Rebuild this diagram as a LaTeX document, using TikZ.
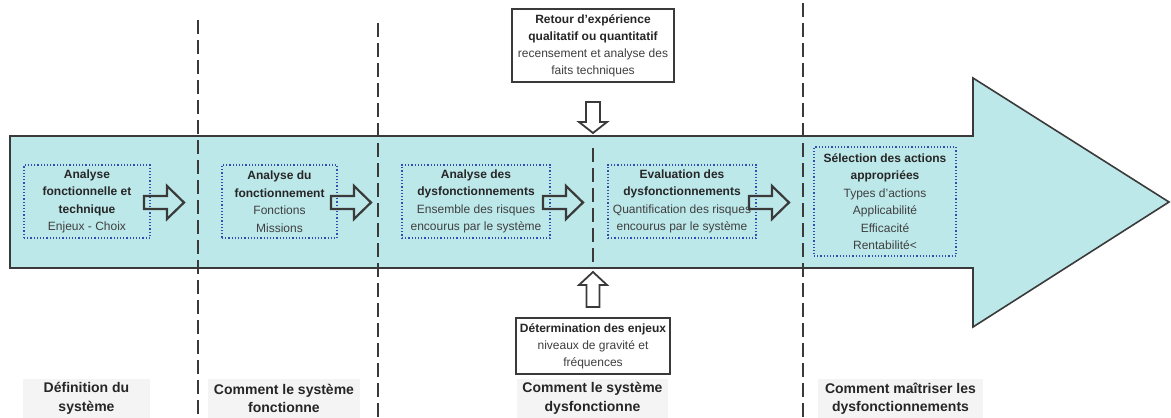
\documentclass[tikz,border=0pt]{standalone}
\usepackage{fontspec}
\setmainfont{Liberation Sans}
\definecolor{bandfill}{HTML}{BDE8EA}
\definecolor{edgegray}{HTML}{3A3A3A}
\definecolor{dotblue}{HTML}{2F4FB0}
\definecolor{labelbg}{HTML}{F4F4F4}
\definecolor{boldtxt}{HTML}{262626}
\definecolor{normtxt}{HTML}{3F3F3F}
\newcommand\hd[1]{\textcolor{boldtxt}{\bfseries #1}}
\tikzset{
  bigarrow/.style={fill=bandfill, draw=edgegray, line width=1.6pt, line join=miter},
  sepline/.style={draw=edgegray, line width=1.6pt, dash pattern=on 14pt off 6pt},
  stagebox/.style={draw=dotblue, line width=1.2pt, dotted, align=center, inner sep=0pt,
    font=\fontsize{12}{17.5}\selectfont, text=normtxt},
  blockarrow/.style={draw=edgegray, line width=2.2pt, line join=miter},
  vblockarrow/.style={draw=edgegray, line width=1.8pt, line join=miter, fill=white},
  infobox/.style={draw=edgegray, line width=1.6pt, fill=white, align=center, inner sep=0pt,
    font=\fontsize{12}{17}\selectfont, text=normtxt},
  phaselabel/.style={fill=labelbg, align=center, inner sep=0pt,
    font=\bfseries\fontsize{14}{18.5}\selectfont, text=boldtxt},
}
\newcommand\rightblock[1]{\draw[blockarrow, shift={(#1)}] (0,-6.5) -- (23,-6.5) -- (23,-16.5) -- (40,0) -- (23,16.5) -- (23,6.5) -- (0,6.5) -- cycle;}
\begin{document}
\begin{tikzpicture}[x=1pt,y=-1pt]
\useasboundingbox (0,0) rectangle (1171,418);

% main band arrow
\draw[bigarrow] (10,136) -- (973,136) -- (973,78) -- (1169,202) -- (973,327) -- (973,268) -- (10,268) -- cycle;

% separators
\draw[sepline] (198,20) -- (198,418);
\draw[sepline] (378,23) -- (378,418);
\draw[sepline] (593,148) -- (593,262);
\draw[sepline] (803,3) -- (803,418);

% stage boxes
\node[stagebox, minimum width=126pt, minimum height=73pt] (s1) at (87,201.5)
  {\hd{Analyse}\\\hd{fonctionnelle et}\\\hd{technique}\\Enjeux - Choix};
\node[stagebox, minimum width=115pt, minimum height=73pt] (s2) at (279.5,201.5)
  {\hd{Analyse du}\\\hd{fonctionnement}\\Fonctions\\Missions};
\node[stagebox, minimum width=148pt, minimum height=73pt] (s3) at (476,201.5)
  {\hd{Analyse des}\\\hd{dysfonctionnements}\\Ensemble des risques\\encourus par le système};
\node[stagebox, minimum width=148pt, minimum height=73pt] (s4) at (682,201.5)
  {\hd{Evaluation des}\\\hd{dysfonctionnements}\\Quantification des risques\\encourus par le système};
\node[stagebox, minimum width=142pt, minimum height=109pt] (s5) at (885,201.5)
  {\hd{Sélection des actions}\\\hd{appropriées}\\Types d’actions\\Applicabilité\\Efficacité\\Rentabilité<};

% horizontal block arrows
\coordinate (a1) at (144,202.5);
\coordinate (a2) at (331,202.5);
\coordinate (a3) at (543,202.5);
\coordinate (a4) at (749,202.5);
\rightblock{a1}
\rightblock{a2}
\rightblock{a3}
\rightblock{a4}

% info boxes
\node[infobox, minimum width=162pt, minimum height=73pt] (retour) at (593,45.5)
  {\hd{Retour d’expérience}\\\hd{qualitatif ou quantitatif}\\recensement et analyse des\\faits techniques};
\node[infobox, minimum width=154pt, minimum height=56pt] (enjeux) at (593,346)
  {\hd{Détermination des enjeux}\\niveaux de gravité et\\fréquences};

% vertical block arrows
\coordinate (dn) at (593,102);
\coordinate (up) at (593,307);
\draw[vblockarrow, shift={(dn)}] (-7,0) -- (7,0) -- (7,20) -- (14,20) -- (0,31) -- (-14,20) -- (-7,20) -- cycle;
\draw[vblockarrow, shift={(up)}] (-6.5,0) -- (6.5,0) -- (6.5,-22) -- (14,-22) -- (0,-35) -- (-14,-22) -- (-6.5,-22) -- cycle;

% phase labels
\node[phaselabel, minimum width=127pt, minimum height=39pt] (p1) at (86.5,398.5) {Définition du\\système};
\node[phaselabel, minimum width=152pt, minimum height=39pt] (p2) at (284,398.5) {Comment le système\\fonctionne};
\node[phaselabel, minimum width=151pt, minimum height=39pt] (p3) at (592.5,398.5) {Comment le système\\dysfonctionne};
\node[phaselabel, minimum width=165pt, minimum height=39pt] (p4) at (900.5,398.5) {Comment maîtriser les\\dysfonctionnements};
\end{tikzpicture}
\end{document}
